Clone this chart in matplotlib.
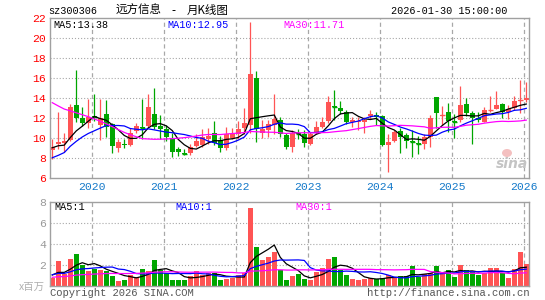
import matplotlib
matplotlib.use("Agg")
import matplotlib.pyplot as plt
import numpy as np
import pandas as pd

plt.rcParams['lines.scale_dashes'] = False

# ---------------- data (monthly, 2019-06 .. 2026-01) ----------------
opens = [8.8, 9.4, 9.45, 9.8, 13.25, 12.0, 11.5, 12.2, 11.3, 12.35,
         11.4, 9.0, 9.4, 9.3, 10.7, 11.05, 11.15, 12.35, 11.15, 10.85,
         10.0, 8.85, 8.45, 8.45, 9.2, 9.3, 9.9, 10.45, 9.75, 9.0,
         10.0, 10.4, 11.0, 11.3, 16.0, 10.5, 10.75, 11.3, 11.8, 10.3,
         9.1, 10.5, 10.35, 9.4, 10.45, 11.1, 11.65, 13.15, 12.95, 12.6,
         11.55, 11.55, 11.6, 12.15, 12.25, 12.2, 9.25, 9.7, 10.65, 10.25,
         9.65, 9.45, 9.4, 10.05, 14.05, 12.15, 12.55, 11.7, 11.8, 13.35,
         12.45, 11.95, 11.6, 12.75, 12.9, 13.35, 12.6, 12.95, 13.7, 13.75]
closes = [9.1, 9.6, 9.7, 13.1, 11.95, 11.45, 12.1, 12.1, 12.0, 11.1,
          9.2, 9.6, 9.25, 10.5, 11.2, 10.95, 13.05, 11.05, 10.85, 10.05,
          8.6, 8.6, 8.4, 9.05, 9.7, 10.1, 10.2, 9.5, 9.0, 10.4,
          10.4, 10.9, 11.45, 16.4, 10.9, 10.9, 11.35, 11.85, 10.4, 9.1,
          10.45, 10.4, 9.45, 10.35, 11.1, 11.55, 13.55, 13.05, 12.7, 11.55,
          11.75, 11.7, 11.8, 12.35, 12.1, 9.3, 9.55, 10.6, 10.05, 9.7,
          9.55, 9.35, 10.1, 12.0, 12.45, 12.25, 11.65, 11.6, 13.25, 12.45,
          11.95, 11.75, 12.8, 12.8, 13.3, 12.6, 12.9, 13.7, 13.75, 13.95]
highs = [9.9, 12.6, 10.5, 13.4, 16.75, 13.1, 13.85, 14.35, 13.9, 13.8,
         11.5, 9.9, 9.9, 11.0, 11.5, 13.85, 14.35, 14.95, 12.3, 11.3,
         10.5, 9.1, 8.9, 9.4, 10.4, 10.9, 11.0, 11.7, 10.2, 11.1,
         11.0, 11.65, 13.0, 21.6, 16.7, 11.8, 11.8, 14.35, 12.1, 10.45,
         10.75, 10.85, 10.75, 10.6, 11.7, 12.1, 14.2, 14.75, 13.65, 12.75,
         12.1, 12.1, 12.1, 12.75, 12.55, 12.3, 10.4, 10.8, 10.95, 10.5,
         10.8, 10.2, 10.4, 12.25, 14.1, 13.2, 13.45, 12.4, 15.2, 14.0,
         12.7, 12.6, 13.05, 14.2, 14.7, 13.5, 13.3, 14.15, 15.75, 15.6]
lows = [7.9, 8.9, 8.6, 9.7, 11.6, 11.2, 11.0, 11.7, 9.8, 10.1,
        8.5, 8.6, 9.0, 9.2, 10.5, 9.9, 11.1, 10.85, 9.9, 9.7,
        8.1, 8.2, 8.25, 8.3, 9.1, 9.1, 9.4, 9.3, 8.6, 8.8,
        9.9, 9.9, 10.4, 10.5, 9.6, 10.0, 10.1, 10.4, 10.1, 8.9,
        8.6, 9.9, 9.1, 9.3, 10.4, 11.0, 11.5, 11.8, 12.35, 11.35,
        11.1, 10.8, 10.5, 11.9, 11.3, 9.2, 6.6, 9.6, 8.5, 9.0,
        8.1, 8.35, 8.9, 9.05, 11.0, 11.3, 10.6, 10.0, 11.6, 12.2,
        9.4, 11.6, 11.55, 12.6, 12.85, 12.0, 11.9, 12.8, 12.5, 13.6]
volumes = [0.8, 2.35, 1.1, 2.6, 3.0, 1.97, 1.4, 1.65, 1.5, 1.43,
           0.95, 0.45, 0.6, 1.0, 0.85, 1.65, 1.4, 2.45, 1.5, 1.2,
           0.6, 0.6, 0.55, 0.9, 1.4, 1.0, 1.2, 1.2, 0.55, 0.7,
           0.8, 1.0, 1.2, 7.35, 3.65, 2.5, 2.7, 3.2, 1.5, 0.6,
           0.9, 1.1, 0.7, 0.55, 1.35, 1.75, 2.55, 2.7, 1.5, 1.0,
           0.65, 0.55, 0.65, 0.8, 0.65, 0.8, 1.0, 0.8, 0.9, 0.9,
           1.85, 0.85, 1.1, 1.25, 1.85, 1.2, 1.5, 0.85, 1.95, 1.5,
           1.35, 1.0, 1.2, 1.75, 1.75, 1.2, 0.8, 1.65, 3.2, 2.05]
# months before the window (not drawn as candles; estimated from where
# the moving-average lines start at the left edge)
prior_closes = [19.5, 19.0, 18.5, 17.8, 17.2, 18.0, 18.8, 19.2, 18.5, 18.0,
                18.2, 17.8, 17.5, 17.2, 16.8, 14.0, 12.0, 10.5, 9.5, 7.5,
                7.2, 6.9, 6.8, 7.0, 7.1, 8.6, 9.4, 9.3, 8.6]
prior_volumes = [0.7, 0.7, 0.7, 0.7, 0.7, 0.7, 0.7, 0.7, 0.7, 0.7,
                 0.7, 0.7, 0.7, 0.7, 0.7, 0.7, 0.7, 0.7, 0.7, 0.7,
                 1.1, 1.1, 1.1, 1.1, 1.1, 1.1, 1.1, 1.1, 1.1]
years = ['2020', '2021', '2022', '2023', '2024', '2025', '2026']
year_index = [7, 19, 31, 43, 55, 67, 79]   # index of each January
price_ticks = [6, 8, 10, 12, 14, 16, 18, 20, 22]
vol_ticks = [2, 4, 6, 8]
ma_price_labels = ['MA5:13.38', 'MA10:12.95', 'MA30:11.71']
ma_vol_labels = ['MA5:1', 'MA10:1', 'MA30:1']
title_parts = ['远方信息', '-', '月K线图']

# ---------------- styling ----------------
W, H = 545, 300
RED = '#ff5454'
GREEN = '#00a600'
FRAME = '#a0a0a0'
GRID = '#a8a8a8'
MONO = 'Liberation Mono'
CJK = ['Noto Sans CJK SC', 'DejaVu Sans']
MA_COLORS = ['black', '#0000ff', '#ff00ff']

fig = plt.figure(figsize=(W / 100, H / 100), dpi=100)
fig.patch.set_facecolor('white')

def fx(x):
    return x / W

def fy(y):
    return 1 - y / H

x0, x1 = 50, 529
ax = fig.add_axes([fx(x0), fy(177.7), (x1 - x0) / W, (177.7 - 18) / H])
axv = fig.add_axes([fx(x0), fy(286), (x1 - x0) / W, (286 - 201.5) / H])

n = len(closes)
xs = np.arange(n)
xlim = (-0.38, 79.45)

o = np.array(opens); c = np.array(closes)
h = np.array(highs); l = np.array(lows)
up = c >= o
cols = [RED if u else GREEN for u in up]

# candles
ax.vlines(xs, l, h, colors=cols, lw=0.9, zorder=2)
body_lo = np.minimum(o, c)
body_h = np.abs(c - o)
ax.bar(xs, body_h, bottom=body_lo, width=0.78, color=cols, lw=0, zorder=2.1)
doji = body_h < 0.12
ax.hlines(c[doji], xs[doji] - 0.39, xs[doji] + 0.39, colors=np.array(cols)[doji],
          lw=1.0, zorder=2.2)

# moving averages of close
all_c = pd.Series(list(prior_closes) + list(closes))
for win, colr in zip([5, 10, 30], MA_COLORS):
    ma = all_c.rolling(win).mean().values[len(prior_closes):]
    ax.plot(xs, ma, color=colr, lw=0.9, zorder=3)

# volume
axv.bar(xs, volumes, width=0.86, color=cols, lw=0, zorder=2)
all_v = pd.Series(list(prior_volumes) + list(volumes))
for win, colr in zip([5, 10, 30], MA_COLORS):
    ma = all_v.rolling(win).mean().values[len(prior_volumes):]
    axv.plot(xs, ma, color=colr, lw=0.9, zorder=3)

# axes styling
for a, ylim, ticks in [(ax, (6, 22), price_ticks), (axv, (0, 8), vol_ticks)]:
    a.set_xlim(*xlim)
    a.set_ylim(*ylim)
    a.set_facecolor('white')
    for s in a.spines.values():
        s.set_color(FRAME)
        s.set_linewidth(1.0)
    a.set_xticks([])
    a.set_yticks(ticks)
    a.tick_params(axis='y', length=0, pad=3)
    for t in ticks:
        if ylim[0] < t < ylim[1]:
            a.axhline(t, color=GRID, lw=0.8, linestyle=(0, (0.8, 1.4)), zorder=1)
    for yi in year_index:
        a.axvline(yi - 0.33, color=GRID, lw=0.9, linestyle=(0, (3.0, 2.2)), zorder=1)

ax.set_yticklabels([str(t) for t in price_ticks], fontfamily=MONO, fontsize=8.2,
                   color='#ff0000')
axv.set_yticklabels([str(t) for t in vol_ticks], fontfamily=MONO, fontsize=8.2,
                    color='#9a9a9a')

# year labels
for yr, yi in zip(years, year_index):
    ax.annotate(yr, xy=(yi - 0.33, 0), xycoords=('data', 'axes fraction'),
                xytext=(0, -7), textcoords='offset points', ha='center', va='center',
                fontfamily=MONO, fontsize=8.2, color='#1479c9')

# MA labels
for txt, colr, xp in zip(ma_price_labels, MA_COLORS, [53, 167, 283]):
    fig.text(fx(xp), fy(24.5), txt, fontfamily=MONO, fontsize=7.3, color=colr,
             ha='left', va='center')
for txt, colr, xp in zip(ma_vol_labels, MA_COLORS, [54, 175, 295]):
    fig.text(fx(xp), fy(206.5), txt, fontfamily=MONO, fontsize=7.3, color=colr,
             ha='left', va='center')

# header
fig.text(fx(48), fy(10.5), 'sz300306', fontfamily=MONO, fontsize=7.3,
         color='black', ha='left', va='center')
for part, xp, ha in zip(title_parts, [116, 173, 187], ['left', 'center', 'left']):
    fig.text(fx(xp), fy(10.5), part, family=CJK, fontsize=8.3,
             color='black', ha=ha, va='center')
fig.text(fx(507), fy(11.5), '2026-01-30 15:00:00', fontfamily=MONO, fontsize=7.3,
         color='black', ha='right', va='center')

# footer
fig.text(fx(45), fy(287), 'x百万', family=CJK, fontsize=7.5, color='#b0b0b0',
         ha='right', va='center')
fig.text(fx(50), fy(292.5), 'Copyright 2026 SINA.COM', fontfamily=MONO,
         fontsize=7.6, color='#555555', ha='left', va='center')
fig.text(fx(529), fy(292.5), 'http://finance.sina.com.cn', fontfamily=MONO,
         fontsize=7.6, color='#555555', ha='right', va='center')

# sina watermark
fig.text(fx(512), fy(164), 'sina', fontfamily='DejaVu Sans', fontsize=10,
         fontstyle='italic', fontweight='bold', color='#c4c4c4',
         ha='center', va='center')
fig.patches.append(matplotlib.patches.Ellipse((fx(507), fy(153)), 10 / W, 8 / H,
                   transform=fig.transFigure, facecolor='#f4c0c0',
                   edgecolor='none'))

fig.savefig('out.png', dpi=100, facecolor='white')
